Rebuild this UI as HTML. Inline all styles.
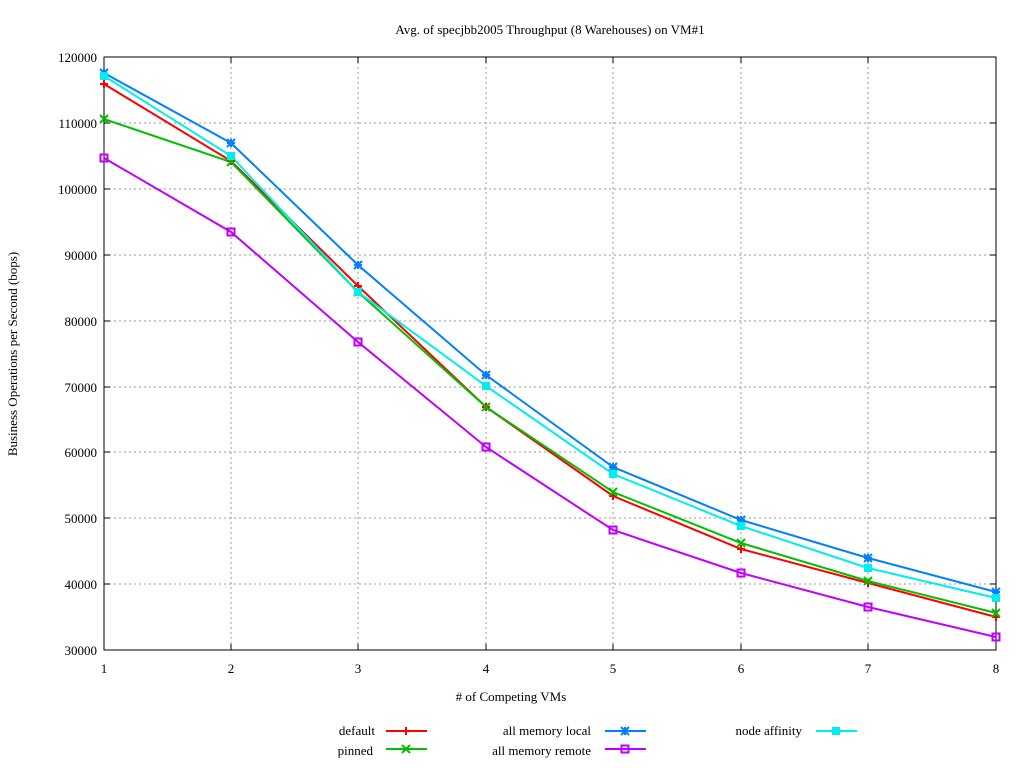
<!DOCTYPE html>
<html><head><style>body{margin:0;background:#fff}svg{display:block}text{font-family:"Liberation Serif",serif;font-size:13px;fill:#000}</style></head><body>
<svg width="1024" height="768" xmlns="http://www.w3.org/2000/svg">
<defs>
<g id="plus"><path d="M-4,0H4M0,-4V4" stroke-width="2"/></g>
<g id="cross"><path d="M-4,-4L4,4M-4,4L4,-4" stroke-width="2"/></g>
<g id="star"><path d="M-4,-4L4,4M-4,4L4,-4M-4,0H4M0,-4V4" stroke-width="2"/></g>
<g id="sqo"><rect x="-3.5" y="-3.5" width="7" height="7" fill="none" stroke-width="2"/></g>
</defs>
<g stroke="#999" stroke-dasharray="2,3" stroke-width="1">
<path d="M231,57V650M358,57V650M486,57V650M613,57V650M741,57V650M868,57V650"/>
<path d="M104,123H996M104,189H996M104,255H996M104,321H996M104,387H996M104,452H996M104,518H996M104,584H996"/>
</g>
<rect x="104" y="57" width="892" height="593" fill="none" stroke="#000"/>
<g stroke="#000">
<path d="M104,57h6M104,123h6M104,189h6M104,255h6M104,321h6M104,387h6M104,452h6M104,518h6M104,584h6M104,650h6"/>
<path d="M996,57h-6M996,123h-6M996,189h-6M996,255h-6M996,321h-6M996,387h-6M996,452h-6M996,518h-6M996,584h-6M996,650h-6"/>
<path d="M231,650v-6M358,650v-6M486,650v-6M613,650v-6M741,650v-6M868,650v-6M231,57v6M358,57v6M486,57v6M613,57v6M741,57v6M868,57v6"/>
</g>
<g text-anchor="end">
<text x="97" y="62">120000</text><text x="97" y="128">110000</text><text x="97" y="194">100000</text><text x="97" y="260">90000</text><text x="97" y="326">80000</text><text x="97" y="392">70000</text><text x="97" y="457">60000</text><text x="97" y="523">50000</text><text x="97" y="589">40000</text><text x="97" y="655">30000</text>
</g>
<g text-anchor="middle">
<text x="104" y="673">1</text><text x="231" y="673">2</text><text x="358" y="673">3</text><text x="486" y="673">4</text><text x="613" y="673">5</text><text x="741" y="673">6</text><text x="868" y="673">7</text><text x="996" y="673">8</text>
<text x="550" y="34">Avg. of specjbb2005 Throughput (8 Warehouses) on VM#1</text>
<text x="511" y="701"># of Competing VMs</text>
<text transform="translate(17,354) rotate(-90)">Business Operations per Second (bops)</text>
</g>
<g fill="none" stroke-width="2">
<polyline stroke="#ff0000" points="104,84 231,161 358,286 486,407 613,496 741,549 868,583 996,617"/>
<polyline stroke="#00c000" points="104,119 231,162 358,292 486,407 613,492 741,543 868,581 996,613"/>
<polyline stroke="#0080ff" points="104,73 231,143 358,265 486,375 613,467 741,520 868,558 996,592"/>
<polyline stroke="#c000ff" points="104,158 231,232 358,342 486,447 613,530 741,573 868,607 996,637"/>
<polyline stroke="#00eeee" points="104,76 231,156 358,292 486,386 613,474 741,526 868,568 996,598"/>
</g>
<g stroke="#ff0000"><use href="#plus" x="104" y="84"/><use href="#plus" x="231" y="161"/><use href="#plus" x="358" y="286"/><use href="#plus" x="486" y="407"/><use href="#plus" x="613" y="496"/><use href="#plus" x="741" y="549"/><use href="#plus" x="868" y="583"/><use href="#plus" x="996" y="617"/></g>
<g stroke="#00c000"><use href="#cross" x="104" y="119"/><use href="#cross" x="231" y="162"/><use href="#cross" x="358" y="292"/><use href="#cross" x="486" y="407"/><use href="#cross" x="613" y="492"/><use href="#cross" x="741" y="543"/><use href="#cross" x="868" y="581"/><use href="#cross" x="996" y="613"/></g>
<g stroke="#0080ff"><use href="#star" x="104" y="73"/><use href="#star" x="231" y="143"/><use href="#star" x="358" y="265"/><use href="#star" x="486" y="375"/><use href="#star" x="613" y="467"/><use href="#star" x="741" y="520"/><use href="#star" x="868" y="558"/><use href="#star" x="996" y="592"/></g>
<g stroke="#c000ff"><use href="#sqo" x="104" y="158"/><use href="#sqo" x="231" y="232"/><use href="#sqo" x="358" y="342"/><use href="#sqo" x="486" y="447"/><use href="#sqo" x="613" y="530"/><use href="#sqo" x="741" y="573"/><use href="#sqo" x="868" y="607"/><use href="#sqo" x="996" y="637"/></g>
<g fill="#00eeee"><rect x="100" y="72" width="8" height="8"/><rect x="227" y="152" width="8" height="8"/><rect x="354" y="288" width="8" height="8"/><rect x="482" y="382" width="8" height="8"/><rect x="609" y="470" width="8" height="8"/><rect x="737" y="522" width="8" height="8"/><rect x="864" y="564" width="8" height="8"/><rect x="992" y="594" width="8" height="8"/></g>
<g text-anchor="end">
<text x="375" y="735">default</text><text x="373" y="755">pinned</text>
<text x="591" y="735">all memory local</text><text x="591" y="755">all memory remote</text>
<text x="802" y="735">node affinity</text>
</g>
<g stroke-width="2">
<path d="M386,731h41" stroke="#ff0000"/><use href="#plus" x="406" y="731" stroke="#ff0000"/>
<path d="M386,749h41" stroke="#00c000"/><use href="#cross" x="406" y="749" stroke="#00c000"/>
<path d="M605,731h41" stroke="#0080ff"/><use href="#star" x="625" y="731" stroke="#0080ff"/>
<path d="M605,749h41" stroke="#c000ff"/><use href="#sqo" x="625" y="749" stroke="#c000ff"/>
<path d="M816,731h41" stroke="#00eeee"/><rect x="832" y="727" width="8" height="8" fill="#00eeee"/>
</g>
</svg>
</body></html>
